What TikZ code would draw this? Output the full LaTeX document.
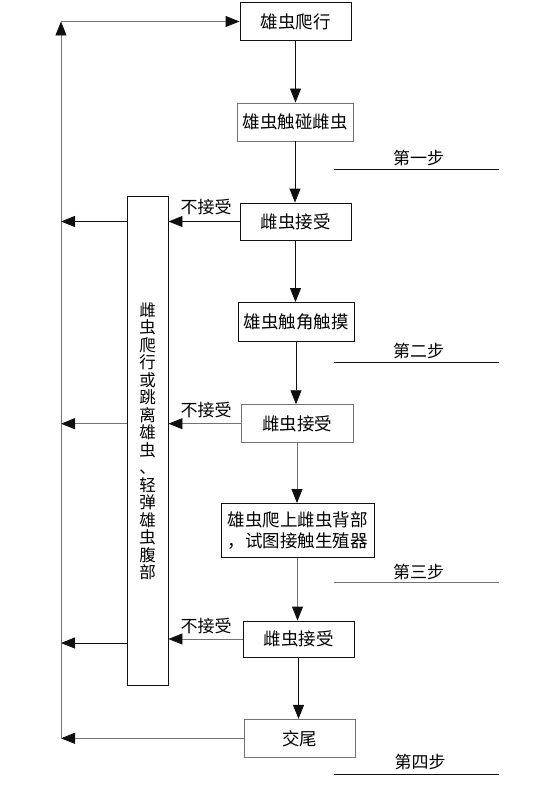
\documentclass[tikz,border=0pt]{standalone}
\usepackage{fontspec}
\setmainfont{Noto Sans CJK SC}
\usetikzlibrary{arrows.meta}
\definecolor{lg}{RGB}{115,115,115}
\definecolor{dk}{RGB}{15,15,15}
\tikzset{
  box/.style={draw=dk, line width=0.9pt, rectangle, inner sep=0pt, align=center,
    font=\fontsize{17.5}{20.5}\selectfont},
  gbox/.style={box, draw=lg},
  arr/.style={line width=0.9pt, draw=dk, -{Triangle[length=14pt,width=11pt,color=dk,fill=dk]}},
  garr/.style={arr, draw=lg},
  lbl/.style={font=\fontsize{17}{20}\selectfont, inner sep=0pt},
  stepline/.style={line width=0.9pt, draw=dk}
}
\begin{document}
\begin{tikzpicture}[x=1pt,y=-1pt]
\useasboundingbox (0,0) rectangle (551,797);
% boxes
\node[box,  minimum width=111pt, minimum height=38pt] (b1) at (295.5,21.5) {雄虫爬行};
\node[gbox, minimum width=116pt, minimum height=38pt] (b2) at (295,122) {雄虫触碰雌虫};
\node[box,  minimum width=111pt, minimum height=37pt] (b3) at (295.5,221.5) {雌虫接受};
\node[box,  minimum width=116pt, minimum height=39pt] (b4) at (296,322) {雄虫触角触摸};
\node[gbox, minimum width=112pt, minimum height=38pt] (b5) at (297,423.7) {雌虫接受};
\node[box,  minimum width=153pt, minimum height=54pt] (b6) at (297.5,530.5) {雄虫爬上雌虫背部\\，试图接触生殖器};
\node[box,  minimum width=111pt, minimum height=36pt] (b7) at (298.5,639) {雌虫接受};
\node[gbox, minimum width=111pt, minimum height=38pt] (b8) at (299.5,738.3) {交尾};
\node[box, minimum width=41pt, minimum height=489pt, font=\fontsize{16.5}{17.5}\selectfont] (side) at (147.5,441)
  {雌\\虫\\爬\\行\\或\\跳\\离\\雄\\虫\\、\\轻\\弹\\雄\\虫\\腹\\部};
% left rail
\coordinate (Ltop) at (61,21.5);
\coordinate (Lbot) at (61,738.3);
\draw[garr] (Lbot) -- (Ltop);
\draw[garr] (Ltop) -- (b1.west);
% vertical flow
\draw[arr]  (b1.south) -- (b1.south |- b2.north);
\draw[arr]  (b2.south) -- (b2.south |- b3.north);
\draw[arr]  (b3.south) -- (b3.south |- b4.north);
\draw[arr]  (b4.south) -- (b4.south |- b5.north);
\draw[garr] (b5.south) -- (b5.south |- b6.north);
\draw[garr] (b6.south) -- (b6.south |- b7.north);
\draw[arr]  (b7.south) -- (b7.south |- b8.north);
% rejection arrows
\draw[arr]  (b3.west) -- (b3.west -| side.east);
\draw[garr] (b5.west) -- (b5.west -| side.east);
\draw[garr] (b7.west) -- (b7.west -| side.east);
\node[lbl] (n1) at (206,207) {不接受};
\node[lbl] (n2) at (206,410) {不接受};
\node[lbl] (n3) at (206,626.5) {不接受};
\draw[arr]  (side.west |- b3.west) -- (Ltop |- b3.west);
\draw[garr] (side.west |- b5.west) -- (Ltop |- b5.west);
\draw[arr]  ([yshift=-4pt]side.west |- b7.west) -- ([yshift=-4pt]Ltop |- b7.west);
\draw[garr] (b8.west) -- (Lbot);
% step labels
\node[lbl] (s1) at (418.5,158) {第一步};
\coordinate (s1a) at (334,169); \coordinate (s1b) at (499,169);
\draw[stepline] (s1a) -- (s1b);
\node[lbl] (s2) at (418.5,351) {第二步};
\coordinate (s2a) at (334,362.3); \coordinate (s2b) at (499,362.3);
\draw[stepline] (s2a) -- (s2b);
\node[lbl] (s3) at (418.5,571.5) {第三步};
\coordinate (s3a) at (334,582.3); \coordinate (s3b) at (499,582.3);
\draw[stepline, draw=lg] (s3a) -- (s3b);
\node[lbl] (s4) at (420,761.5) {第四步};
\coordinate (s4a) at (334,774); \coordinate (s4b) at (499,774);
\draw[stepline] (s4a) -- (s4b);
\end{tikzpicture}
\end{document}
